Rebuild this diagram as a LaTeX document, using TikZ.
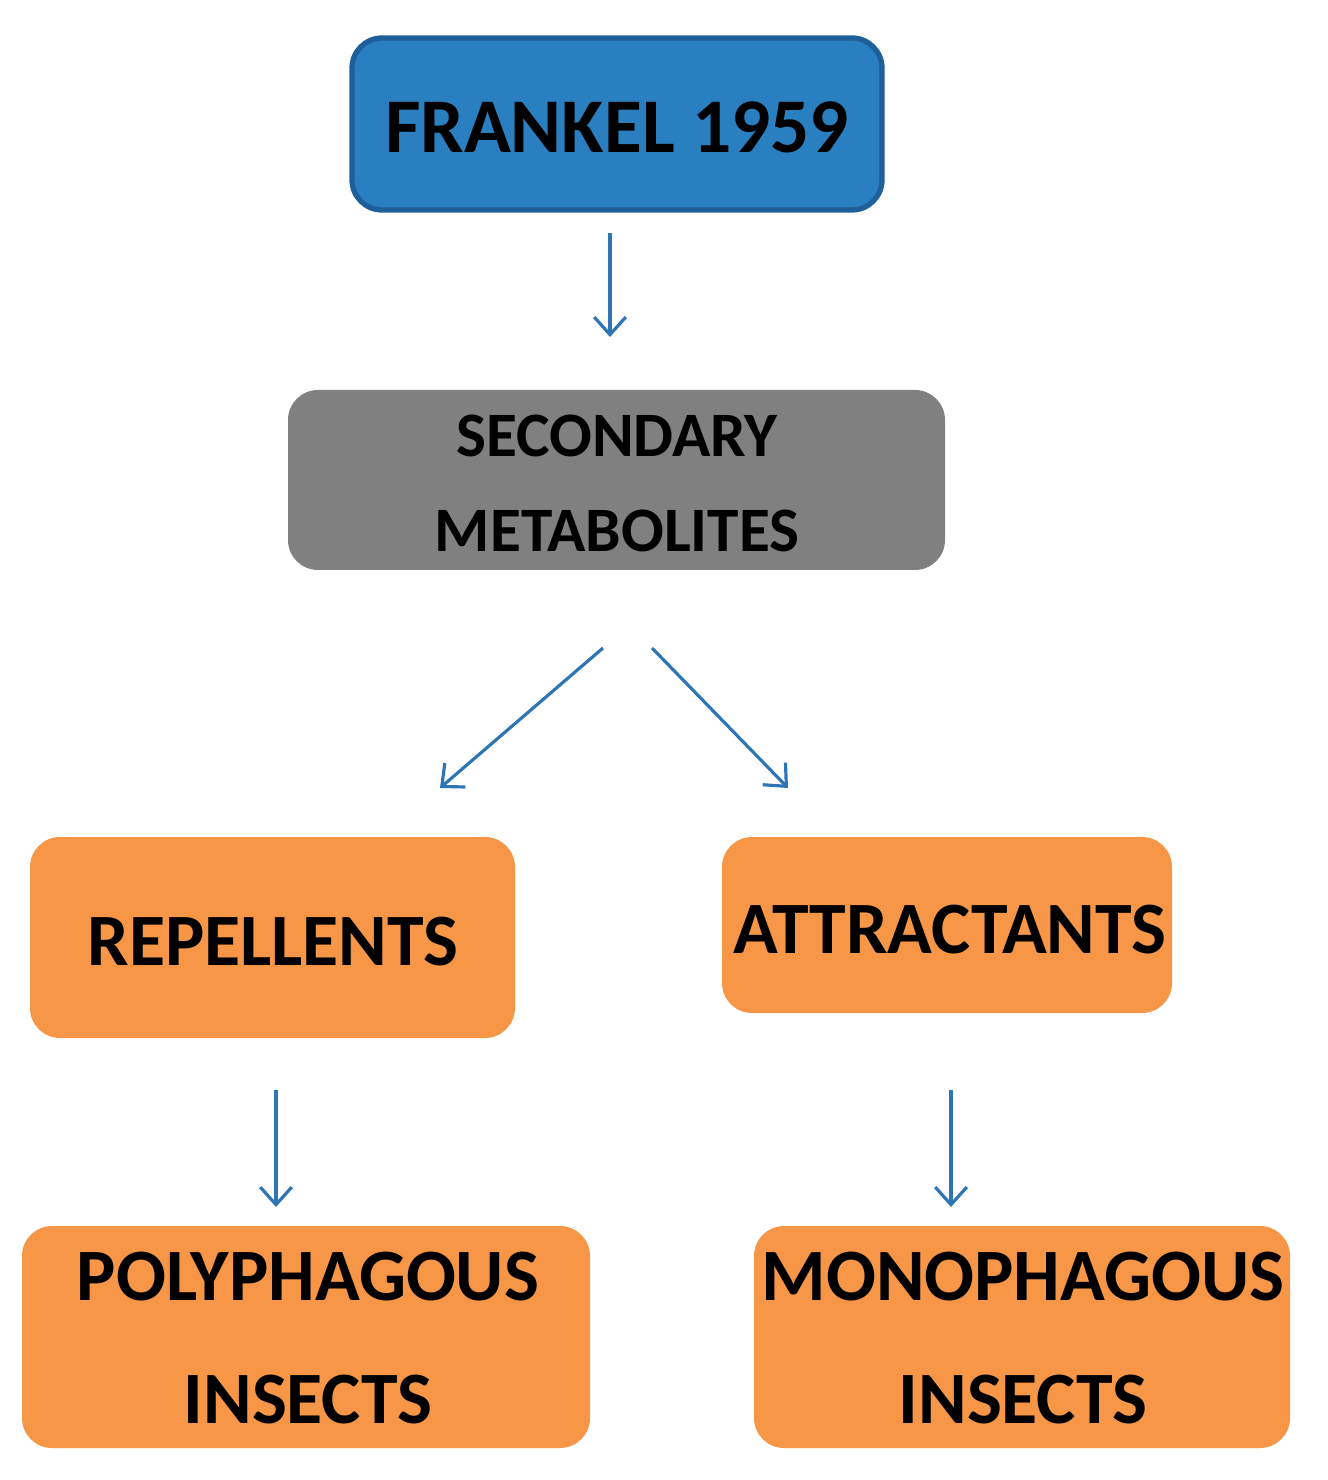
\documentclass[tikz,border=0pt]{standalone}
\usepackage{fontspec}
\setmainfont{Carlito}
\usetikzlibrary{arrows.meta}
\definecolor{bl}{HTML}{2A7FC0}
\definecolor{bld}{HTML}{1F5F99}
\definecolor{gr}{HTML}{808080}
\definecolor{or}{HTML}{F79646}
\definecolor{ar}{HTML}{2E75B6}
\begin{document}
\begin{tikzpicture}[x=0.01cm,y=-0.01cm,
 box/.style={rounded corners=0.3cm,line width=0.6pt},
 lab/.style={font=\bfseries\fontsize{21}{35}\selectfont,align=center,text=black},
 arr/.style={draw=ar,line width=0.9pt,-{Straight Barb[length=5pt,width=9pt]}}]
\useasboundingbox (0,0) rectangle (1327,1480);
\draw[box,fill=bl,draw=bld,line width=1.5pt] (352,38) rectangle (882,210);
\node[lab,font=\bfseries\fontsize{22}{30}\selectfont] (fr) at (617,127) {FRANKEL 1959};
\fill[box,gr] (288,390) rectangle (945,570);
\node[lab,font=\bfseries\fontsize{18}{27}\selectfont] (sm) at (617,483) {SECONDARY\\METABOLITES};
\fill[box,or] (30,837) rectangle (515,1038);
\node[lab] (re) at (273,942) {REPELLENTS};
\fill[box,or] (722,837) rectangle (1172,1013);
\node[lab] (at) at (950,930) {ATTRACTANTS};
\fill[box,or] (22,1226) rectangle (590,1448);
\node[lab] (po) at (308,1338) {POLYPHAGOUS\\INSECTS};
\fill[box,or] (754,1226) rectangle (1290,1448);
\node[lab] (mo) at (1023,1338) {MONOPHAGOUS\\INSECTS};
\coordinate (a1) at (610,233); \coordinate (b1) at (610,337);
\coordinate (a2) at (603,648); \coordinate (b2) at (440,788);
\coordinate (a3) at (652,648); \coordinate (b3) at (788,788);
\coordinate (a4) at (276,1090); \coordinate (b4) at (276,1207);
\coordinate (a5) at (951,1090); \coordinate (b5) at (951,1207);
\foreach \i in {1,...,5} \draw[arr] (a\i) -- (b\i);
\end{tikzpicture}
\end{document}
